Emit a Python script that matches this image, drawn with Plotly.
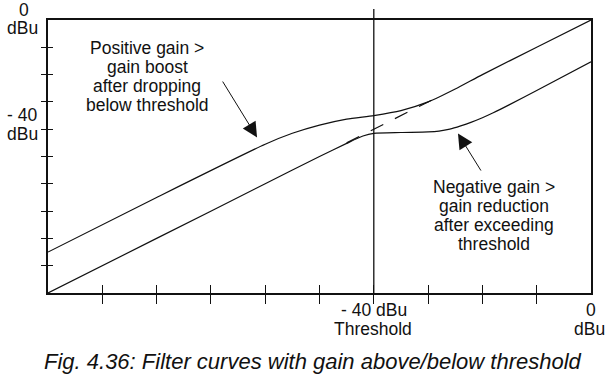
import plotly.graph_objects as go

# Input level (dBu) / output level (dBu)
boost_in = [-100, -80, -60, -55, -50, -45, -40, -35, -30, -25, -20, -10, 0]
boost_out = [-85, -65, -45.5, -41.5, -38.5, -36.3, -35, -33.2, -30, -25.3, -20, -10, 0]

cut_in = [-100, -80, -60, -50, -45, -42, -40, -35, -30, -28, -26, -24, -22, -20, -18, -15, -10, 0]
cut_out = [-100, -80, -60, -50, -45.2, -42.5, -41.5, -41.2, -41, -40.7, -40, -38.8, -37.4, -35.8, -34, -31, -25.8, -15.3]

ref_in = [-45, -28]
ref_out = [-45, -28]

threshold = -40
tick_vals = [-90, -80, -70, -60, -50, -40, -30, -20, -10]

boost_note = ["Positive gain >", "gain boost", "after dropping", "below threshold"]
cut_note = ["Negative gain >", "gain reduction", "after exceeding", "threshold"]
caption = "Fig. 4.36: Filter curves with gain above/below threshold"

FONT = "Liberation Sans, Arial, sans-serif"
BLACK = "#111111"

# plot area in pixels
L, R, T, B = 48, 591, 20, 293
W, H = 611, 377


def paper(x, y):
    return (x - L) / (R - L), (B - y) / (B - T)


fig = go.Figure()
fig.add_trace(go.Scatter(x=boost_in, y=boost_out, mode="lines",
                         line=dict(color=BLACK, width=1.2, shape="spline", smoothing=0.6),
                         hoverinfo="skip"))
fig.add_trace(go.Scatter(x=cut_in, y=cut_out, mode="lines",
                         line=dict(color=BLACK, width=1.2, shape="spline", smoothing=0.6),
                         hoverinfo="skip"))
fig.add_trace(go.Scatter(x=ref_in, y=ref_out, mode="lines",
                         line=dict(color=BLACK, width=1.2, dash="14px,13px"),
                         hoverinfo="skip"))
# invisible trace on overlay axes so the inner ticks get drawn
fig.add_trace(go.Scatter(x=[-100, 0], y=[-100, 0], xaxis="x2", yaxis="y2",
                         mode="markers", marker=dict(opacity=0), hoverinfo="skip"))

axis_common = dict(range=[-100, 0], showgrid=False, zeroline=False,
                   showticklabels=False, tickvals=tick_vals, tickcolor=BLACK,
                   tickwidth=1.3, fixedrange=True)

fig.update_layout(
    width=W, height=H,
    margin=dict(l=L, r=W - R, t=T, b=H - B),
    paper_bgcolor="white", plot_bgcolor="white",
    showlegend=False,
    xaxis=dict(**axis_common, ticks="outside", ticklen=9, showline=True,
               mirror=True, linecolor=BLACK, linewidth=1.5),
    yaxis=dict(**axis_common, ticks="outside", ticklen=5, showline=True,
               mirror=True, linecolor=BLACK, linewidth=1.5),
    xaxis2=dict(**axis_common, ticks="inside", ticklen=8, overlaying="x",
                side="bottom", anchor="y2", showline=False),
    yaxis2=dict(**axis_common, ticks="inside", ticklen=5, overlaying="y",
                side="left", anchor="x2", showline=False),
)

# threshold line, running a little above the frame
fig.add_shape(type="line", xref="x", yref="paper", x0=threshold, x1=threshold,
              y0=0, y1=paper(0, 9)[1], line=dict(color=BLACK, width=1.3))


def label(text, x, y, size=17.5, italic=False):
    px_, py_ = paper(x, y)
    fig.add_annotation(text=text, x=px_, y=py_, xref="paper", yref="paper",
                       showarrow=False,
                       font=dict(family=FONT, size=size, color=BLACK,
                                 style="italic" if italic else "normal"),
                       xanchor="center", yanchor="middle", align="center")


label("0", 24, 10)
label("dBu", 22, 28)
label("- 40", 22, 115)
label("dBu", 22, 134)
label("- 40 dBu", 374, 310)
label("Threshold", 373, 329)
label("0", 591, 310)
label("dBu", 589, 329)
for i, line in enumerate(boost_note):
    label(line, 147, 48 + 19 * i)
for i, line in enumerate(cut_note):
    label(line, 494, 187 + 19 * i)
label(caption, 313, 361, size=22, italic=True)

# arrows (tip, tail) in data coordinates
fig.add_annotation(x=-61.5, y=-43, ax=-68, ay=-22, xref="x", yref="y",
                   axref="x", ayref="y", text="", showarrow=True,
                   arrowhead=2, arrowsize=3, arrowwidth=1, arrowcolor=BLACK)
fig.add_annotation(x=-24.5, y=-41.6, ax=-20.1, ay=-55.7, xref="x", yref="y",
                   axref="x", ayref="y", text="", showarrow=True,
                   arrowhead=2, arrowsize=3, arrowwidth=1, arrowcolor=BLACK)

fig.write_html("out.html", config={"displayModeBar": False},
               post_script="document.body.style.margin='0';")
